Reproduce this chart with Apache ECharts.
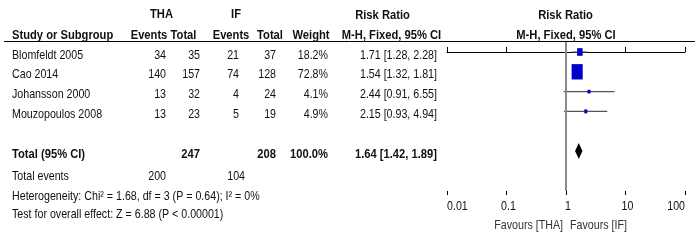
<!DOCTYPE html>
<html><head><meta charset="utf-8">
<script src="https://cdn.jsdelivr.net/npm/echarts@6/dist/echarts.min.js"></script>
<style>html,body{margin:0;padding:0;background:#fff}#c{width:699px;height:240px}</style>
</head><body><div id="c"></div>
<script>
// ---- data ----
const studies   = ['Blomfeldt 2005', 'Cao 2014', 'Johansson 2000', 'Mouzopoulos 2008'];
const thaEvents = [34, 140, 13, 13];
const thaTotal  = [35, 157, 32, 23];
const ifEvents  = [21, 74, 4, 5];
const ifTotal   = [37, 128, 24, 19];
const weights   = [18.2, 72.8, 4.1, 4.9];
const riskRatio = [1.71, 1.54, 2.44, 2.15];
const ciLow     = [1.28, 1.32, 0.91, 0.93];
const ciHigh    = [2.28, 1.81, 6.55, 4.94];
const pooled    = [1.64, 1.42, 1.89];      // RR, low, high
const totals    = [247, 208, 100.0];       // THA total, IF total, weight
const totalEvents = [200, 104];
const heterogeneity = 'Heterogeneity: Chi² = 1.68, df = 3 (P = 0.64); I² = 0%';
const overallEffect = 'Test for overall effect: Z = 6.88 (P < 0.00001)';
const tickValues = [0.01, 0.1, 1, 10, 100];
const tickLabels = ['0.01', '0.1', '1', '10', '100'];

// ---- layout ----
const F = "'Liberation Sans','Arial',sans-serif";
const FS = 13;
const SX = 0.82, SXB = 0.86;
const ROW0 = 52, ROWH = 19.8, TXT_OFF = 3;
const colX = {name: 12, thaE: 166, thaT: 200, ifE: 239, ifT: 276, w: 328, rr: 437, totEvA: 166, totEvB: 245};
const fmt = v => v.toFixed(2);
const ci = (a, b, c) => `${fmt(a)} [${fmt(b)}, ${fmt(c)}]`;

// table rows built from data arrays
const tableRows = [];
studies.forEach((s, i) => {
  tableRows.push({row: i, cells: [
    {t: s, x: colX.name, a: 'left'},
    {t: String(thaEvents[i]), x: colX.thaE, a: 'right'},
    {t: String(thaTotal[i]), x: colX.thaT, a: 'right'},
    {t: String(ifEvents[i]), x: colX.ifE, a: 'right'},
    {t: String(ifTotal[i]), x: colX.ifT, a: 'right'},
    {t: weights[i].toFixed(1) + '%', x: colX.w, a: 'right'},
    {t: ci(riskRatio[i], ciLow[i], ciHigh[i]), x: colX.rr, a: 'right'}
  ]});
});
tableRows.push({row: 5, bold: true, cells: [
  {t: 'Total (95% CI)', x: colX.name, a: 'left'},
  {t: String(totals[0]), x: colX.thaT, a: 'right'},
  {t: String(totals[1]), x: colX.ifT, a: 'right'},
  {t: totals[2].toFixed(1) + '%', x: colX.w, a: 'right'},
  {t: ci(pooled[0], pooled[1], pooled[2]), x: colX.rr, a: 'right'}
]});
tableRows.push({row: 6.15, cells: [
  {t: 'Total events', x: colX.name, a: 'left'},
  {t: String(totalEvents[0]), x: colX.totEvA, a: 'right'},
  {t: String(totalEvents[1]), x: colX.totEvB, a: 'right'}
]});
tableRows.push({row: 7.15, cells: [{t: heterogeneity, x: colX.name, a: 'left'}]});
tableRows.push({row: 8.05, cells: [{t: overallEffect, x: colX.name, a: 'left'}]});

const chart = echarts.init(document.getElementById('c'), null, {renderer: 'canvas'});

const logAxisBase = {
  type: 'log', logBase: 10, min: 0.01, max: 100, gridIndex: 1, position: 'bottom',
  splitLine: {show: false}, minorTick: {show: false}
};

const txt = (text, x, y, align, bold, fill) => ({
  type: 'text', x, y, scaleX: bold ? SXB : SX,
  style: {text, fill: fill || '#111', font: `${bold ? 'bold ' : ''}${FS}px ${F}`, align, verticalAlign: 'middle'}
});

const AX_BOTTOM_ROW = (191 - ROW0) / ROWH;

chart.setOption({
  animation: false,
  backgroundColor: '#fff',
  grid: [
    {left: 0, top: 0, width: 699, height: 240},
    {left: 447, top: 42, width: 238, height: 149}
  ],
  xAxis: [
    {type: 'value', min: 0, max: 699, show: false, gridIndex: 0},
    Object.assign({}, logAxisBase, {
      axisLine: {show: true, lineStyle: {color: '#000', width: 1}},
      axisTick: {show: true, inside: true, length: 5, lineStyle: {color: '#000'}},
      axisLabel: {show: false}
    }),
    Object.assign({}, logAxisBase, {
      axisLine: {show: false},
      axisTick: {show: true, inside: false, length: 4, lineStyle: {color: '#000'}},
      axisLabel: {show: false}
    })
  ],
  yAxis: [
    {type: 'value', inverse: true, min: -ROW0 / ROWH, max: (240 - ROW0) / ROWH, show: false, gridIndex: 0},
    {type: 'value', inverse: true, min: (42 - ROW0) / ROWH, max: AX_BOTTOM_ROW, show: false, gridIndex: 1}
  ],
  graphic: [
    txt('THA', 161.5, 14, 'center', true),
    txt('IF', 236, 14, 'center', true),
    txt('Risk Ratio', 382.5, 15, 'center', true),
    txt('Risk Ratio', 565.5, 15, 'center', true),
    txt('Study or Subgroup', 12, 35, 'left', true),
    txt('Events', 149, 35, 'center', true),
    txt('Total', 183.5, 35, 'center', true),
    txt('Events', 231, 35, 'center', true),
    txt('Total', 270, 35, 'center', true),
    txt('Weight', 311, 35, 'center', true),
    txt('M-H, Fixed, 95% CI', 391.5, 35, 'center', true),
    txt('M-H, Fixed, 95% CI', 566, 35, 'center', true),
    {type: 'line', shape: {x1: 4, y1: 41.5, x2: 695, y2: 41.5}, style: {stroke: '#000', lineWidth: 1}},
    txt('Favours [THA]', 563, 225, 'right', false, '#333'),
    txt('Favours [IF]', 570, 225, 'left', false, '#333')
  ],
  series: [
    {
      type: 'custom', xAxisIndex: 0, yAxisIndex: 0, silent: true,
      data: tableRows.map(r => [0, r.row]),
      renderItem: (params, api) => {
        const r = tableRows[params.dataIndex];
        const y = api.coord([0, r.row])[1] + TXT_OFF;
        return {type: 'group', children: r.cells.map(c => txt(c.t, c.x, y, c.a, r.bold))};
      }
    },
    {
      type: 'custom', xAxisIndex: 1, yAxisIndex: 1, silent: true, clip: false,
      data: studies.map((s, i) => [riskRatio[i], i, ciLow[i], ciHigh[i], weights[i]]),
      encode: {x: 0, y: 1},
      renderItem: (params, api) => {
        const row = api.value(1);
        const p = api.coord([api.value(0), row]);
        const l = api.coord([api.value(2), row]);
        const h = api.coord([api.value(3), row]);
        const s = Math.sqrt(api.value(4));
        const w = Math.max(3, s * 1.3), ht = Math.max(3, s * 1.8);
        return {type: 'group', children: [
          {type: 'line', shape: {x1: l[0], y1: l[1], x2: h[0], y2: h[1]}, style: {stroke: '#555', lineWidth: 1.2}},
          {type: 'rect', shape: {x: p[0] - w / 2, y: p[1] - ht / 2, width: w, height: ht}, style: {fill: '#0000c8'}}
        ]};
      }
    },
    {
      type: 'custom', xAxisIndex: 1, yAxisIndex: 1, silent: true, clip: false,
      data: [[pooled[0], 5, pooled[1], pooled[2]]],
      encode: {x: 0, y: 1},
      renderItem: (params, api) => {
        const row = api.value(1);
        const p = api.coord([api.value(0), row]);
        const l = api.coord([api.value(2), row]);
        const h = api.coord([api.value(3), row]);
        const hh = 8;
        return {type: 'polygon', shape: {points: [[l[0], p[1]], [p[0], p[1] - hh], [h[0], p[1]], [p[0], p[1] + hh]]}, style: {fill: '#000'}};
      }
    },
    {
      // tick labels placed through the log axis scale
      type: 'custom', xAxisIndex: 1, yAxisIndex: 1, silent: true, clip: false,
      data: tickValues.map((v, i) => [v, AX_BOTTOM_ROW, i]),
      encode: {x: 0, y: 1},
      renderItem: (params, api) => {
        const i = params.dataIndex;
        const p = api.coord([api.value(0), api.value(1)]);
        const a = i === 0 ? 'left' : (i === tickValues.length - 1 ? 'right' : 'center');
        const dx = (a === 'center') ? 2 : 0;
        return txt(tickLabels[i], p[0] + dx, p[1] + 15, a, false, '#111');
      }
    },
    {
      type: 'line', xAxisIndex: 1, yAxisIndex: 1, data: [], silent: true,
      markLine: {silent: true, symbol: 'none', label: {show: false},
        lineStyle: {color: '#8a8a8a', width: 2, type: 'solid'},
        data: [{xAxis: 1}]}
    }
  ]
});
</script>
</body></html>
